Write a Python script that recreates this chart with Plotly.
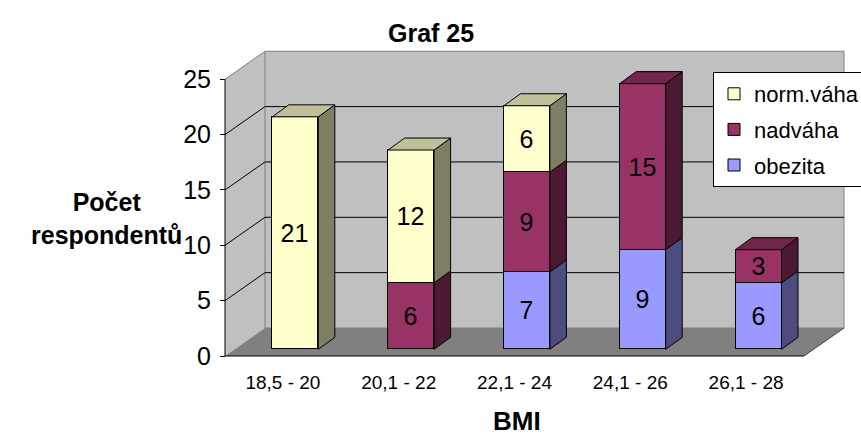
import plotly.graph_objects as go

# ---- data -------------------------------------------------------------
categories = ["18,5 - 20", "20,1 - 22", "22,1 - 24", "24,1 - 26", "26,1 - 28"]
obezita = [None, None, 7, 9, 6]
nadvaha = [None, 6, 9, 15, 3]
norm_vaha = [21, 12, 6, None, None]
y_ticks = [0, 5, 10, 15, 20, 25]

# stacking order, bottom to top (last entry is listed first in the legend)
series = [
    ("obezita", obezita, "#9999FF"),
    ("nadváha", nadvaha, "#993366"),
    ("norm.váha", norm_vaha, "#FFFFCC"),
]

FONT = "Liberation Sans, Arial, sans-serif"

# ---- geometry (pixels) -----------------------------------------------
W, H = 861, 437
FRONT_L, FRONT_B = 225, 356          # front-plane origin
PAD = 4                              # keeps edge lines from being clipped
L0, R0, T0, B0 = FRONT_L - PAD, 848, 47, FRONT_B + PAD
SLOT = 115.8                         # px per category
UNIT = 11.07                         # px per respondent
YMAX = 25

x_range = [-0.5 - PAD / SLOT, -0.5 + (R0 - FRONT_L) / SLOT]
y_range = [-PAD / UNIT, (FRONT_B - T0) / UNIT]

DX, DY = 40 / SLOT, 28 / UNIT        # depth of the box (walls / floor)
SHIFT_X, SHIFT_Y = 12.4 / SLOT, 6.7 / UNIT   # bars sit inside the box
BAR_W = 46 / SLOT
BDX, BDY = 16.5 / SLOT, 12 / UNIT    # depth of each bar


def shade(hex_color, f):
    h = hex_color.lstrip("#")
    r, g, b = (int(h[i:i + 2], 16) for i in (0, 2, 4))
    return "#{:02X}{:02X}{:02X}".format(int(r * f), int(g * f), int(b * f))


def paper(xp, yp):
    return (xp - L0) / (R0 - L0), (B0 - yp) / (B0 - T0)


def poly(pts):
    return "M " + " L ".join(f"{x},{y}" for x, y in pts) + " Z"


fig = go.Figure()

# ---- bars (front faces) ----------------------------------------------
n_series = len(series)
for k, (name, vals, color) in enumerate(series):
    fig.add_trace(go.Bar(
        x=list(range(len(categories))), y=vals, name=name,
        xaxis="x2", yaxis="y2", width=BAR_W,
        marker=dict(color=color, line=dict(color="black", width=1)),
        texttemplate="%{y}", textposition="inside", insidetextanchor="middle",
        textangle=0, constraintext="none",
        textfont=dict(family=FONT, size=25, color="black"),
        legendgroup=name, legendrank=n_series - k,
    ))

shapes = []
xl, xr = -0.5, len(categories) - 0.5

# ---- box: left wall, back wall, floor ---------------------------------
shapes.append(dict(type="path", xref="x", yref="y", layer="below",
                   path=poly([(xl, 0), (xl + DX, DY), (xl + DX, YMAX + DY), (xl, YMAX)]),
                   fillcolor="#C0C0C0", line=dict(width=0)))
shapes.append(dict(type="rect", xref="x", yref="y", layer="below",
                   x0=xl + DX, x1=xr + DX, y0=DY, y1=YMAX + DY,
                   fillcolor="#C0C0C0", line=dict(color="#808080", width=1)))
shapes.append(dict(type="path", xref="x", yref="y", layer="below",
                   path=poly([(xl, 0), (xr, 0), (xr + DX, DY), (xl + DX, DY)]),
                   fillcolor="#808080", line=dict(width=0)))

# gridlines on back and left walls
for v in y_ticks[1:-1]:
    shapes.append(dict(type="line", xref="x", yref="y", layer="below",
                       x0=xl + DX, x1=xr + DX, y0=v + DY, y1=v + DY,
                       line=dict(color="black", width=1)))
    shapes.append(dict(type="line", xref="x", yref="y", layer="below",
                       x0=xl, x1=xl + DX, y0=v, y1=v + DY,
                       line=dict(color="black", width=1)))
shapes.append(dict(type="line", xref="x", yref="y", layer="below",
                   x0=xl, x1=xl + DX, y0=YMAX, y1=YMAX + DY,
                   line=dict(color="#808080", width=1)))
shapes.append(dict(type="line", xref="x", yref="y", layer="below",
                   x0=xr, x1=xr + DX, y0=0, y1=DY,
                   line=dict(color="#404040", width=1)))

# axis lines on the front plane
shapes.append(dict(type="line", xref="x", yref="y", layer="above",
                   x0=xl, x1=xl, y0=0, y1=YMAX, line=dict(color="black", width=1)))
shapes.append(dict(type="line", xref="x", yref="y", layer="above",
                   x0=xl, x1=xr, y0=0, y1=0, line=dict(color="black", width=1)))

# ---- bar sides and tops -----------------------------------------------
for i in range(len(categories)):
    base = 0
    top_color = None
    right = i + BAR_W / 2
    left = i - BAR_W / 2
    for name, vals, color in series:
        v = vals[i]
        if not v:
            continue
        shapes.append(dict(type="path", xref="x2", yref="y2", layer="above",
                           path=poly([(right, base), (right + BDX, base + BDY),
                                      (right + BDX, base + v + BDY), (right, base + v)]),
                           fillcolor=shade(color, 0.5), line=dict(color="black", width=1)))
        base += v
        top_color = color
    if top_color:
        shapes.append(dict(type="path", xref="x2", yref="y2", layer="above",
                           path=poly([(left, base), (left + BDX, base + BDY),
                                      (right + BDX, base + BDY), (right, base)]),
                           fillcolor=shade(top_color, 0.75), line=dict(color="black", width=1)))

# ---- titles -------------------------------------------------------------
annotations = []
for text, (px_, py_), size in [
    ("<b>Graf 25</b>", (431, 33), 25),
    ("<b>BMI</b>", (517, 421), 26),
    ("<b>Počet<br>respondentů</b>", (106, 218), 25),
]:
    ax, ay = paper(px_, py_)
    annotations.append(dict(text=text, x=ax, y=ay, xref="paper", yref="paper",
                            xanchor="center", yanchor="middle", showarrow=False,
                            align="center", font=dict(family=FONT, size=size, color="black")))

lx, ly = paper(713, 72)
x_pos = PAD / (B0 - T0)
y_pos = PAD / (R0 - L0)

fig.update_layout(
    width=W, height=H,
    margin=dict(l=L0, r=W - R0, t=T0, b=H - B0, autoexpand=False),
    paper_bgcolor="white", plot_bgcolor="white",
    barmode="stack", bargap=0,
    showlegend=True,
    legend=dict(x=lx, y=ly, xanchor="left", yanchor="top",
                bgcolor="white", bordercolor="black", borderwidth=1,
                font=dict(family=FONT, size=22, color="black"),
                traceorder="grouped", tracegroupgap=4, itemwidth=30),
    xaxis=dict(range=x_range, anchor="free", position=x_pos,
               tickmode="array", tickvals=list(range(len(categories))), ticktext=categories,
               ticks="", showline=False, showgrid=False, zeroline=False,
               tickfont=dict(family=FONT, size=19, color="black"), ticklabelstandoff=13),
    xaxis3=dict(range=x_range, overlaying="x", anchor="free", position=x_pos,
                tickmode="array", tickvals=[k - 0.5 for k in range(len(categories) + 1)],
                ticks="outside", ticklen=6, tickcolor="black", showticklabels=False,
                showline=False, showgrid=False, zeroline=False),
    yaxis=dict(range=y_range, anchor="free", position=y_pos,
               tickmode="array", tickvals=y_ticks,
               ticks="outside", ticklen=5, tickcolor="black",
               showline=False, showgrid=False, zeroline=False,
               tickfont=dict(family=FONT, size=25, color="black"), ticklabelstandoff=4),
    xaxis2=dict(range=[x_range[0] - SHIFT_X, x_range[1] - SHIFT_X], overlaying="x",
                anchor="y2", visible=False),
    yaxis2=dict(range=[y_range[0] - SHIFT_Y, y_range[1] - SHIFT_Y], overlaying="y",
                anchor="x2", visible=False),
    shapes=shapes,
    annotations=annotations,
)

fig.write_html("out.html")
